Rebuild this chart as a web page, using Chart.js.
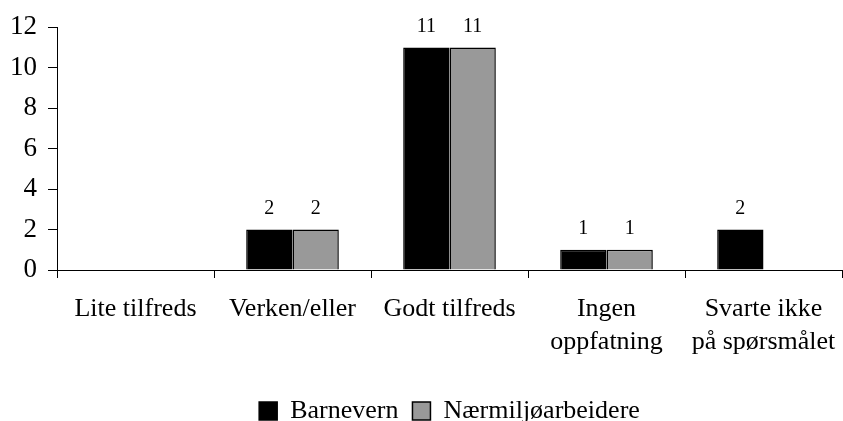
<!DOCTYPE html>
<html>
<head>
<meta charset="utf-8">
<script src="https://cdn.jsdelivr.net/npm/chart.js@4/dist/chart.umd.min.js"></script>
<style>
  html, body { margin: 0; padding: 0; background: #fff; }
  #wrap { width: 843px; height: 421px; }
</style>
</head>
<body>
<div id="wrap"><canvas id="chart" width="843" height="421"></canvas></div>
<script>
// data
var categories = ["Lite tilfreds", "Verken/eller", "Godt tilfreds", ["Ingen", "oppfatning"], ["Svarte ikke", "på spørsmålet"]];
var barnevern = [0, 2, 11, 1, 2];
var naermiljo = [0, 2, 11, 1, 0];
var yTicks = [0, 2, 4, 6, 8, 10, 12];

var serif = "'Liberation Serif', 'Times New Roman', serif";

// draws the numbers above each bar (skip zeros)
var valueLabels = {
    id: 'valueLabels',
    afterDatasetsDraw: function (chart) {
        var ctx = chart.ctx;
        ctx.save();
        ctx.fillStyle = '#000';
        ctx.font = "20px " + serif;
        ctx.textAlign = 'center';
        ctx.textBaseline = 'middle';
        chart.data.datasets.forEach(function (ds, i) {
            var meta = chart.getDatasetMeta(i);
            meta.data.forEach(function (bar, j) {
                if (ds.data[j] > 0) {
                    ctx.fillText(ds.data[j], bar.x, bar.y - 21);
                }
            });
        });
        ctx.restore();
    }
};

var Ctx = document.getElementById('chart');
var Chart1 = new Chart(Ctx, {
    type: 'bar',
    data: {
        labels: categories,
        datasets: [{
            label: 'Barnevern',
            data: barnevern,
            backgroundColor: '#000000',
            borderColor: '#000000',
            borderWidth: 1.5
        }, {
            label: 'Nærmiljøarbeidere',
            data: naermiljo,
            backgroundColor: '#999999',
            borderColor: '#000000',
            borderWidth: 1.5
        }]
    },
    options: {
        responsive: false,
        animation: false,
        devicePixelRatio: 1,
        layout: { padding: { top: 21, right: 1, left: 0, bottom: -13 } },
        datasets: {
            bar: { categoryPercentage: 0.59, barPercentage: 1.0 }
        },
        plugins: {
            tooltip: { enabled: false },
            legend: {
                position: 'bottom',
                fullSize: false,
                labels: {
                    color: '#000',
                    font: { family: serif, size: 26 },
                    boxWidth: 18,
                    boxHeight: 18,
                    padding: 14
                }
            }
        },
        scales: {
            x: {
                grid: {
                    display: true,
                    drawOnChartArea: false,
                    drawTicks: true,
                    tickLength: 8,
                    color: '#000'
                },
                border: { color: '#000', width: 1 },
                ticks: {
                    color: '#000',
                    font: { family: serif, size: 26, lineHeight: 1.25 },
                    maxRotation: 0,
                    autoSkip: false,
                    padding: 15
                },
                afterFit: function (scale) {
                    scale.height = 114;
                    scale.paddingLeft = 0;
                    scale.paddingRight = 0;
                }
            },
            y: {
                min: 0,
                max: 12,
                afterBuildTicks: function (scale) {
                    scale.ticks = yTicks.map(function (v) { return { value: v }; });
                },
                grid: {
                    display: true,
                    drawOnChartArea: false,
                    drawTicks: true,
                    tickLength: 9,
                    color: '#000'
                },
                border: { color: '#000', width: 1 },
                ticks: {
                    color: '#000',
                    font: { family: serif, size: 27 },
                    padding: 11
                },
                afterFit: function (scale) { scale.width = 57; }
            }
        }
    },
    plugins: [valueLabels]
});
</script>
</body>
</html>
